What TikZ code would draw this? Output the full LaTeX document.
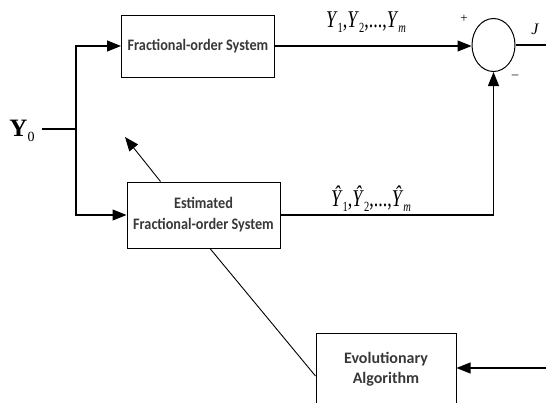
\documentclass[tikz,border=0pt]{standalone}
\usepackage{fontspec}
\setmainfont{Liberation Serif}
\newfontfamily\boxfont{Carlito}
\usetikzlibrary{arrows.meta,calc,shapes.geometric}
\newcommand\sbs[1]{\raisebox{-0.45ex}{\fontsize{14}{14}\selectfont #1}}
\begin{document}
\begin{tikzpicture}[x=1pt,y=-1pt,
  line width=1.1pt,
  blockbox/.style={draw, line width=1pt, minimum width=153pt, align=center,
    font=\boxfont\bfseries\fontsize{16}{20}\selectfont, text=black!78},
  arr/.style={-{Triangle[length=14pt,width=11pt]}},
  mathlab/.style={font=\fontsize{24}{24}\selectfont, inner sep=0pt}]
\useasboundingbox (0,0) rectangle (546,402);
\clip (0,0) rectangle (546,402);

\node[blockbox, minimum height=62pt] (fos) at (198,46) {\scalebox{0.89}[1]{Fractional-order System}};
\node[blockbox, minimum height=66pt] (efos) at (203.5,215) {\scalebox{0.89}[1]{Estimated}\\[1pt]\scalebox{0.89}[1]{Fractional-order System}};
\node[blockbox, minimum width=140pt, minimum height=73pt] (evo) at (386,369.5) {Evolutionary\\[0pt]Algorithm};
\node[draw, ellipse, line width=1pt, minimum width=43pt, minimum height=53pt, inner sep=0pt] (sum) at (493.5,45) {};

\node[inner sep=0pt, font=\fontsize{25}{25}\selectfont] (y0) at (22,131) {\textbf{Y}\sbs{0}};
\coordinate (split) at (76,129);
\coordinate (tip) at (125,137);
\coordinate (jout) at (546,45);
\coordinate (ein) at (546,368);

\draw ($(y0.east)+(7,-2)$) -- (split);
\draw[arr] (split) |- (fos.west);
\draw[arr] (split) |- (efos.west);
\draw[arr] (fos.east) -- (fos.east -| sum.west);
\draw[arr] (efos.east) -| (sum.south);
\draw (sum.east) -- (jout);
\draw[arr, line width=0.9pt] ($(efos.north)+(-43,0)$) -- (tip);
\draw[line width=0.9pt] ($(efos.south)+(6.5,0)$) -- ($(evo.west)+(0,6.5)$);
\draw[arr] (ein) -- (ein -| evo.east);

\node[mathlab] (lab1) at (366,22) {\scalebox{0.75}[1]{\textit{Y}\sbs{1},\textit{Y}\sbs{2},...,\textit{Y}\sbs{\textit{m}}}};
\node[mathlab] (lab2) at (371,199) {\scalebox{0.75}[1]{\textit{\^Y}\sbs{1},\textit{\^Y}\sbs{2},...,\textit{\^Y}\sbs{\textit{m}}}};
\node[inner sep=0pt, font=\fontsize{13}{13}\selectfont] (plus) at (464,19) {+};
\node[inner sep=0pt, font=\fontsize{13}{13}\selectfont] (minus) at (515,77) {\textendash};
\node[inner sep=0pt, font=\itshape\fontsize{16}{16}\selectfont] (jl) at (535,29) {J};
\end{tikzpicture}
\end{document}
